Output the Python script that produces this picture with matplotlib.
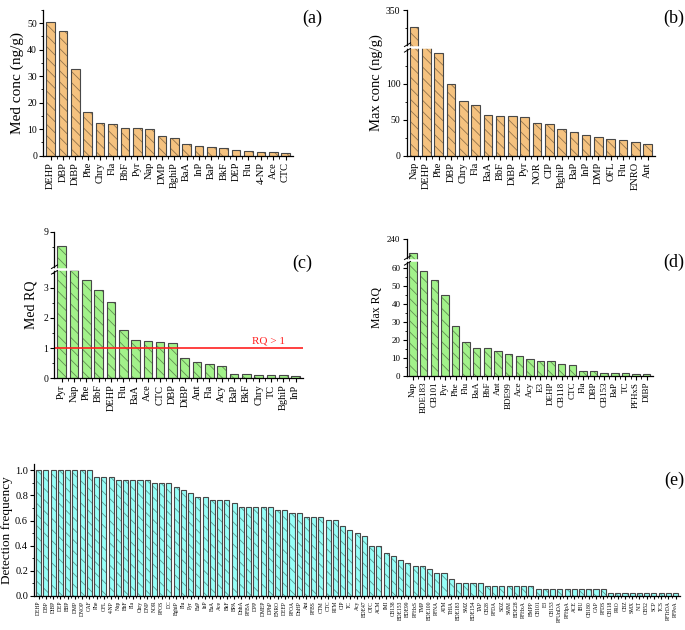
import numpy as np
import matplotlib
matplotlib.use("Agg")
import matplotlib.pyplot as plt
from matplotlib.path import Path
from matplotlib.ticker import FixedLocator, MultipleLocator, FormatStrFormatter

plt.rcParams['font.family'] = ['Liberation Serif', 'DejaVu Serif']
plt.rcParams['hatch.linewidth'] = 0.6

# (a) median concentration
a_names = ['DEHP', 'DBP', 'DiBP', 'Phe', 'Chry', 'Fla', 'BbF', 'Pyr', 'Nap', 'DMP',
           'BghiP', 'BaA', 'InP', 'BaP', 'BkF', 'DEP', 'Flu', '4-NP', 'Ace', 'CTC']
a_vals = [50.6, 46.9, 32.9, 16.6, 12.2, 11.9, 10.6, 10.3, 10.1, 7.3,
          6.5, 4.3, 3.5, 3.4, 3.0, 2.3, 1.8, 1.5, 1.3, 1.1]

# (b) max concentration
b_names = ['Nap', 'DEHP', 'Phe', 'DBP', 'Chry', 'Fla', 'BaA', 'BbF', 'DiBP', 'Pyr',
           'NOR', 'CIP', 'BghiP', 'BaP', 'InP', 'DMP', 'OFL', 'Flu', 'ENRO', 'Ant']
b_vals = [326, 151, 142.8, 99.5, 76.7, 71.2, 56.3, 55.8, 55.8, 53.5,
          46.0, 43.7, 37.7, 33.5, 28.4, 26.5, 22.8, 21.9, 18.6, 15.8]

# (c) median RQ
c_names = ['Pyr', 'Nap', 'Phe', 'BbF', 'DEHP', 'Flu', 'BaA', 'Ace', 'CTC', 'DBP',
           'DiBP', 'Ant', 'Fla', 'Acy', 'BaP', 'BkF', 'Chry', 'TC', 'BghiP', 'InP']
c_vals = [8.53, 3.6, 3.27, 2.94, 2.52, 1.59, 1.26, 1.22, 1.19, 1.18,
          0.66, 0.54, 0.46, 0.40, 0.14, 0.14, 0.12, 0.12, 0.10, 0.07]

# (d) max RQ
d_names = ['Nap', 'BDE183', 'CB101', 'Pyr', 'Phe', 'Flu', 'BaA', 'BbF', 'Ant', 'BDE99',
           'Ace', 'Acy', 'E3', 'DEHP', 'CB118', 'CTC', 'Fla', 'DBP', 'CB153', 'BaP',
           'TC', 'PFHxS', 'DIBP']
d_vals = [232.5, 58.7, 53.5, 44.9, 27.8, 18.8, 15.6, 15.5, 13.8, 11.9,
          10.8, 9.1, 8.2, 8.2, 6.5, 6.0, 2.8, 2.6, 1.3, 1.3,
          1.3, 1.1, 1.1]

# (e) detection frequency
e_names = ['DEHP', 'DBP', 'DiBP', 'DEP', 'BBP', 'DMP', 'DNOP', 'CAF', 'Phe', 'OFL',
           '4-NP', 'Nap', 'BbF', 'Fla', 'Chry', 'DNP', 'NOR', 'PFOS', 'DC', 'BghiP',
           'Flu', 'Pyr', 'BaP', 'InP', 'BaA', 'Ace', 'BkF', 'BPA', 'DnhA', 'PFBA',
           'DPP', 'DMEP', 'DPhP', 'ENRO', 'DEEP', 'PFOA', 'DnHP', 'Ant', 'PFBS', 'CTM',
           'CTC', 'RTM', 'CIP', 'TC', 'Acy', 'BDE47', 'OTC', 'ACM', 'IMI', 'CB138',
           'BDE153', 'BDE99', 'PFHxS', 'TMP', 'BDE100', 'PFNA', 'ATM', 'THIA', 'BDE183', 'SMZ',
           'BDE154', 'TAP', 'CB28', 'PFDA', 'SDZ', 'SMM', 'BDE28', 'PFHxA', 'BMPP', 'CB101',
           'E3', 'CB153', 'PFUnDA', 'PFHpA', 'ACE', 'IBU', 'CB180', 'CAP', 'PFDS', 'CB118',
           'PRO', 'CBZ', 'SMX', 'NIT', 'CB52', 'SCP', 'TCS', 'PFTrDA', 'PFPeA']
e_vals = [1.0, 1.0, 1.0, 1.0, 1.0, 1.0, 1.0, 1.0, 0.947, 0.947,
          0.947, 0.921, 0.921, 0.921, 0.921, 0.921, 0.895, 0.895, 0.895, 0.868,
          0.842, 0.816, 0.789, 0.789, 0.763, 0.763, 0.763, 0.737, 0.711, 0.711,
          0.711, 0.711, 0.711, 0.684, 0.684, 0.658, 0.658, 0.632, 0.632, 0.632,
          0.605, 0.605, 0.553, 0.526, 0.500, 0.474, 0.395, 0.395, 0.342, 0.316,
          0.289, 0.263, 0.237, 0.237, 0.211, 0.184, 0.184, 0.132, 0.105, 0.105,
          0.105, 0.105, 0.079, 0.079, 0.079, 0.079, 0.079, 0.079, 0.079, 0.053,
          0.053, 0.053, 0.053, 0.053, 0.053, 0.053, 0.053, 0.053, 0.053, 0.026,
          0.026, 0.026, 0.026, 0.026, 0.026, 0.026, 0.026, 0.026, 0.026]

ORANGE = '#F5C27F'
GREEN = '#A2F28A'
CYAN = '#96FFF8'
EDGE = '#484848'
HATCH = (0, 0, 0, 0.4)


def broken_scale(ax, lo, hi):
    eps = 0.001

    def fwd(v):
        v = np.asarray(v, dtype=float)
        return np.where(v <= lo, v,
                        np.where(v >= hi, lo + (hi - lo) * eps + (v - hi), lo + (v - lo) * eps))

    def inv(u):
        u = np.asarray(u, dtype=float)
        top = lo + (hi - lo) * eps
        return np.where(u <= lo, u,
                        np.where(u >= top, hi + (u - top), lo + (u - lo) / eps))

    ax.set_yscale('function', functions=(fwd, inv))
    # white gap + break marks on the y axis
    ax.axhline(lo, color='white', lw=1.8, zorder=3, xmin=-0.02, xmax=1, clip_on=False)
    mark = Path([(-1, -1.4), (1, -0.2), (-1, 0.2), (1, 1.4)],
                [Path.MOVETO, Path.LINETO, Path.MOVETO, Path.LINETO])
    ax.plot([0], [lo], marker=mark, markersize=7, color='k', mew=0.7,
            transform=ax.get_yaxis_transform(), clip_on=False, zorder=4)


def bar_panel(ax, names, vals, color, xfs, yfs):
    x = np.arange(len(names))
    # filled + hatched layer, then the outline on top
    ax.bar(x, vals, width=0.7, color=color, edgecolor=HATCH, linewidth=0,
           hatch='\\\\\\', zorder=1)
    ax.bar(x, vals, width=0.7, color='none', edgecolor=EDGE, linewidth=0.8, zorder=1.1)
    ax.set_xlim(-0.6, len(names) - 0.4)
    ax.set_xticks(x)
    ax.set_xticklabels(names, rotation=90, fontsize=xfs)
    ax.xaxis.set_minor_locator(FixedLocator(x[:-1] + 0.5))
    ax.tick_params(axis='both', which='major', direction='out', length=3, width=0.8,
                   pad=1.5)
    ax.tick_params(axis='both', which='minor', direction='out', length=1.8, width=0.6)
    ax.tick_params(axis='y', labelsize=yfs)
    for s in ['top', 'right']:
        ax.spines[s].set_visible(False)
    for s in ['left', 'bottom']:
        ax.spines[s].set_linewidth(0.9)


fig = plt.figure(figsize=(6.85, 6.3), dpi=100)

# (a)
ax_a = fig.add_axes([0.0632, 0.7529, 0.3645, 0.2312])
bar_panel(ax_a, a_names, a_vals, ORANGE, 7.5, 7)
ax_a.set_ylim(0, 55)
ax_a.yaxis.set_major_locator(MultipleLocator(10))
ax_a.yaxis.set_minor_locator(MultipleLocator(5))
ax_a.set_ylabel('Med conc (ng/g)', fontsize=11, labelpad=2)

# (b)
ax_b = fig.add_axes([0.5937, 0.7529, 0.3625, 0.2312])
bar_panel(ax_b, b_names, b_vals, ORANGE, 7.5, 7)
broken_scale(ax_b, 152, 299.3)
ax_b.set_ylim(0, 350)
ax_b.yaxis.set_major_locator(FixedLocator([0, 50, 100, 350]))
ax_b.yaxis.set_minor_locator(FixedLocator([25, 75, 125, 325]))
ax_b.set_ylabel('Max conc (ng/g)', fontsize=10.5, labelpad=2)

# (c)
ax_c = fig.add_axes([0.0793, 0.3995, 0.3630, 0.2327])
bar_panel(ax_c, c_names, c_vals, GREEN, 7.5, 7)
broken_scale(ax_c, 3.62, 7.77)
ax_c.set_ylim(0, 9)
ax_c.yaxis.set_major_locator(FixedLocator([0, 1, 2, 3, 9]))
ax_c.yaxis.set_minor_locator(FixedLocator([0.5, 1.5, 2.5, 3.5, 8.5]))
ax_c.axhline(1, color='#FF2020', lw=1.2, zorder=2)
ax_c.text(0.863, 1.08, 'RQ > 1', color='#FF2020', fontsize=8, ha='center', va='bottom',
          transform=ax_c.get_yaxis_transform())
ax_c.set_ylabel('Med RQ', fontsize=10, labelpad=4)

# (d)
ax_d = fig.add_axes([0.5937, 0.4037, 0.3596, 0.2165])
bar_panel(ax_d, d_names, d_vals, GREEN, 6.5, 6.5)
broken_scale(ax_d, 64.6, 228.5)
ax_d.set_ylim(0, 240)
ax_d.yaxis.set_major_locator(FixedLocator([0, 10, 20, 30, 40, 50, 60, 240]))
ax_d.yaxis.set_minor_locator(FixedLocator([5, 15, 25, 35, 45, 55]))
ax_d.set_ylabel('Max RQ', fontsize=8.5, labelpad=3)

# (e)
ax_e = fig.add_axes([0.0501, 0.0540, 0.9426, 0.2095])
bar_panel(ax_e, e_names, e_vals, CYAN, 4, 7.5)
ax_e.set_ylim(0, 1.05)
ax_e.yaxis.set_major_locator(MultipleLocator(0.2))
ax_e.yaxis.set_minor_locator(MultipleLocator(0.1))
ax_e.yaxis.set_major_formatter(FormatStrFormatter('%.1f'))
ax_e.tick_params(axis='x', which='major', length=2)
ax_e.tick_params(axis='x', which='minor', length=1.2)
ax_e.set_ylabel('Detection frequency', fontsize=9.5)
ax_e.yaxis.set_label_coords(-0.033, 0.5)

# panel letters
fig.text(0.4555, 0.9841, '(a)', fontsize=13, ha='center', va='top')
fig.text(0.984, 0.9841, '(b)', fontsize=13, ha='center', va='top')
fig.text(0.441, 0.596, '(c)', fontsize=13, ha='center', va='top')
fig.text(0.984, 0.598, '(d)', fontsize=13, ha='center', va='top')
fig.text(0.984, 0.252, '(e)', fontsize=13, ha='center', va='top')

fig.savefig('out.png', dpi=100)
